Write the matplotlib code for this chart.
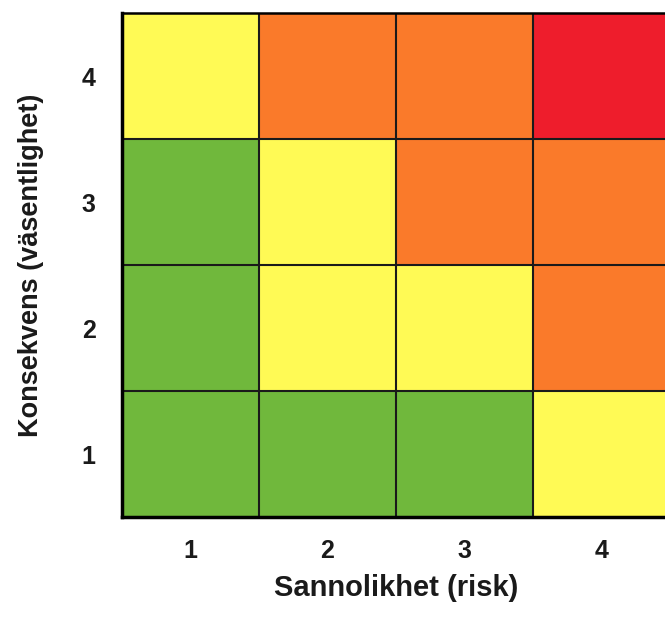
import numpy as np
import matplotlib.pyplot as plt
from matplotlib.colors import ListedColormap

plt.rcParams['font.family'] = ['Liberation Sans', 'DejaVu Sans']

# risk levels: 0 = low (green), 1 = medium (yellow), 2 = high (orange), 3 = very high (red)
probability = [1, 2, 3, 4]
consequence = [1, 2, 3, 4]
risk_level = np.array([
    [0, 0, 0, 1],   # consequence 1
    [0, 1, 1, 2],   # consequence 2
    [0, 1, 2, 2],   # consequence 3
    [1, 2, 2, 3],   # consequence 4
])
level_colors = ['#70b83c', '#fffa55', '#fa7a2a', '#ee1d2c']

cmap = ListedColormap(level_colors)

fig = plt.figure(figsize=(6.65, 6.19), dpi=100)
ax = fig.add_axes([122 / 665, 102 / 619, 548 / 665, 504 / 619])

ax.imshow(
    risk_level,
    origin='lower',
    cmap=cmap,
    vmin=-0.5,
    vmax=3.5,
    aspect='auto',
    interpolation='nearest',
    extent=(0.5, len(probability) + 0.5, 0.5, len(consequence) + 0.5),
)

# cell borders
ax.set_xticks(np.arange(1.5, len(probability)), minor=True)
ax.set_yticks(np.arange(1.5, len(consequence)), minor=True)
ax.grid(which='minor', color='#1a1a1a', linewidth=1.5)
ax.tick_params(which='minor', length=0)

ax.set_xticks(probability)
ax.set_yticks(consequence)
ax.set_xticklabels([str(p) for p in probability], fontsize=18, fontweight='bold')
ax.set_yticklabels([str(c) for c in consequence], fontsize=18, fontweight='bold')
ax.tick_params(which='major', length=0, colors='#1a1a1a')
ax.tick_params(axis='x', pad=16)
ax.tick_params(axis='y', pad=19)

for side in ['left', 'bottom']:
    ax.spines[side].set_linewidth(2.5)
for side in ['top', 'right']:
    ax.spines[side].set_linewidth(1.8)

ax.set_xlabel('Sannolikhet (risk)', fontsize=21, fontweight='bold', labelpad=8, color='#1a1a1a')
ax.set_ylabel('Konsekvens (väsentlighet)', fontsize=19.5, fontweight='bold', labelpad=27, color='#1a1a1a')

fig.savefig('out.png', dpi=100)
